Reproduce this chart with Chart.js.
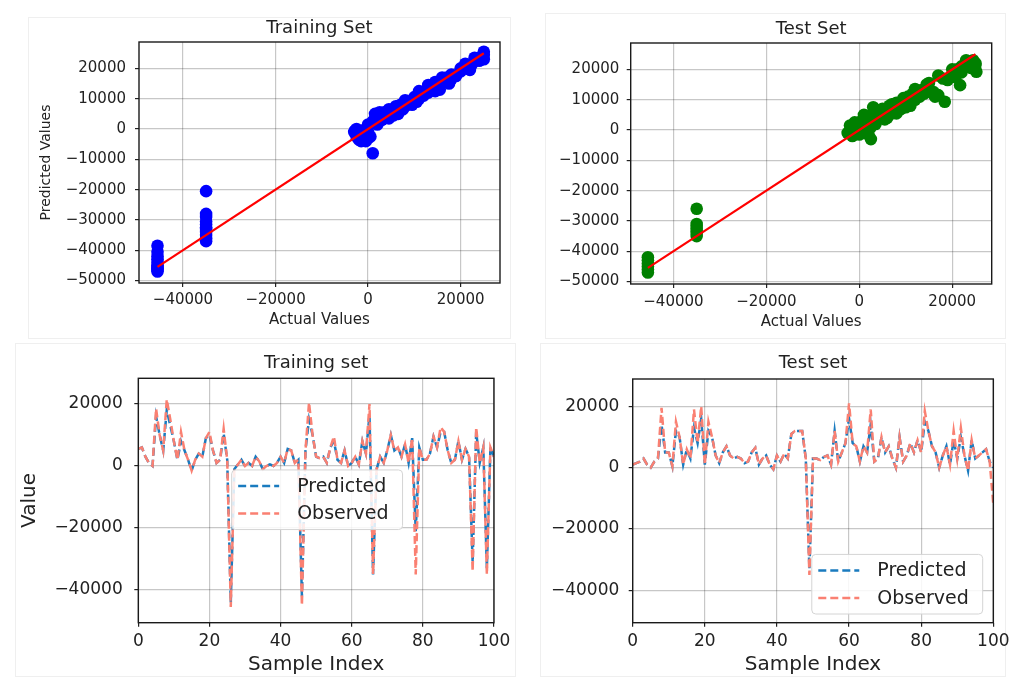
<!DOCTYPE html>
<html><head><meta charset="utf-8">
<script src="https://cdn.jsdelivr.net/npm/chart.js@4/dist/chart.umd.min.js"></script>
<style>
html,body{margin:0;padding:0;background:#fff;width:1019px;height:677px;overflow:hidden}
.card{position:absolute;border:1px solid #efefef;background:#fff;box-sizing:border-box}
canvas{position:absolute}
</style></head><body>
<div class="card" style="left:28px;top:17px;width:483px;height:322px"></div>
<div class="card" style="left:545px;top:13px;width:461px;height:326px"></div>
<div class="card" style="left:15px;top:343px;width:501px;height:334px"></div>
<div class="card" style="left:540px;top:343px;width:466px;height:334px"></div>
<canvas id="c1" width="515" height="340" style="left:0;top:0"></canvas>
<canvas id="c2" width="504" height="340" style="left:515px;top:0"></canvas>
<canvas id="c3" width="515" height="337" style="left:0;top:340px"></canvas>
<canvas id="c4" width="504" height="337" style="left:515px;top:340px"></canvas>
<script>
// ---------------- DATA ----------------
const trainActual = [-45500,-45500,-45500,-45500,-45500,-45500,-45500,-45500,-45500,-45500,
  -35000,-35000,-35000,-35000,-35000,-35000,-35000,-35000,-35000,-35000,-35000,
  -3000,-2800,-2500,-2000,-1500,-1000,-500,0,0,500,1000,1000,1500,2000,2000,2500,3000,3500,4000,4500,
  5000,5500,6000,6500,7000,7500,8000,8500,9000,9500,10000,10500,11000,11500,12000,12500,13000,13500,
  14000,14500,15000,15500,16000,17000,17500,18000,19000,20000,21000,22000,22500,23000,24000,24500,25000,25000,
  -2500,-2000,-1000,0,-500,1500,2500,3500,4500,6000,8000,11000,13000,14500,16000,18000,20000,21000,22000,23000,24000,25000];
const trainPredicted = [-38500,-40500,-42000,-43000,-44000,-45000,-45500,-46000,-46500,-47000,
  -20500,-28000,-29000,-30500,-31500,-32500,-33000,-34000,-35000,-36000,-37000,
  -1000,-500,-2500,-3500,-4000,-2000,0,-1000,1500,-2500,2500,-8000,3500,5000,1500,4500,3000,4000,5000,3500,
  5500,4500,6000,5000,8000,6500,7500,8500,9000,8000,10500,9000,10000,11500,11000,12500,12000,13500,
  14500,12500,14000,13000,15500,17000,15000,18000,17500,20000,20500,19500,21500,22500,23500,23000,24500,25500,
  0,-1500,-3500,-3000,-4000,5000,5500,5500,6500,7500,9500,12500,14500,15500,17000,16500,19000,21500,21000,23500,22500,23000];

const testActual = [-45500,-45500,-45500,-45500,-45500,-45500,
  -35000,-35000,-35000,-35000,-35000,-35000,
  -2500,-2000,-1500,-1000,-500,0,0,500,1000,1000,1500,2000,2500,2500,3000,3000,3500,4000,4500,5000,5500,
  6000,6500,7000,7500,8000,8500,9000,9500,10000,10500,11000,11500,12000,13000,14000,14500,15000,16000,16300,
  17000,18000,18400,19000,20000,21000,21700,22000,23000,24000,25000,25200,
  1000,2000,3500,4000,5000,6000,7000,8000,9000,10000,11000,12000,13000,14000,15000,15500,17000,
  20000,21000,22000,23500,24500,25000];
const testPredicted = [-42000,-43000,-44000,-45000,-46000,-47000,
  -26000,-31000,-32000,-33000,-34000,-35000,
  -1000,1500,-2000,2500,0,-1500,1000,3000,-1000,5000,2000,4500,-3000,1000,7500,3000,5500,6500,4000,7000,3500,
  6000,8000,5500,7000,9000,6500,8500,10500,7500,11000,9500,12000,10000,13000,12000,15000,13500,12500,11000,
  18000,17000,9300,16500,20000,18500,14800,21000,23000,20500,22000,19200,
  2500,-1500,2000,3500,4500,4000,8500,5500,7000,9500,8000,13500,11000,13500,15500,12500,11500,
  17500,20000,19000,21500,23000,21500];

const idealX = [-45500, 25000];
const idealY = [-45500, 25000];

const scatterXTicks = [-40000, -20000, 0, 20000];
const scatterYTicks = [-50000, -40000, -30000, -20000, -10000, 0, 10000, 20000];
const lineXTicks = [0, 20, 40, 60, 80, 100];
const lineYTicks = [-40000, -20000, 0, 20000];

const sampleIndex = Array.from({length:101},(_, i)=>i);

const trainSetObserved = [5500,6000,3000,1000,0,18500,10000,5000,21500,15000,
  8000,2000,11000,5000,2000,-1500,2000,4000,3000,9000,
  11000,5000,1000,2000,12000,2000,-45500,-1000,500,2000,
  0,1000,0,3000,1500,-1000,0,500,0,1000,
  3000,1000,5500,5000,1000,2000,-45000,5000,20500,10000,
  3000,2500,3000,1000,6000,9500,2000,1000,5000,0,
  1000,3000,500,8000,4000,20000,-35000,-1000,3000,1000,
  5000,10000,5000,6000,3000,7000,1000,9000,-35000,6000,
  2000,2000,4000,9500,6000,12500,11000,5000,1000,2000,
  8000,2000,5500,3000,-34000,12500,1000,6000,-35000,6000,
  3000];
const trainSetPredicted = [5500,6000,3000,1000,0,16000,10000,5000,18000,13000,
  8000,2000,8000,5000,2000,-1500,2000,4000,3000,9000,
  10000,5000,1000,2000,10500,2000,-44000,-1000,500,2000,
  0,1000,0,3000,1500,-1000,0,500,0,1000,
  3000,1000,5500,5000,1000,2000,-42000,5000,15000,10000,
  3000,2500,3000,1000,6000,8000,2000,1000,5000,0,
  1000,3000,500,8000,4000,16500,-35000,-1000,3000,1000,
  5000,10000,5000,6000,3000,7000,1000,9000,-21000,6000,
  2000,2000,4000,9500,6000,11000,11000,5000,1000,2000,
  8000,2000,5500,3000,-31000,11000,1000,6000,-33000,6000,
  3000];

const testSetObserved = [1000,1500,2000,3000,1000,0,2000,3000,19500,5000,
  5000,500,15000,10000,1000,6000,3000,19000,8000,20000,
  1000,15000,10000,4000,1500,5000,7000,4000,3000,3500,
  3000,1500,2000,5000,6500,1000,3000,4000,1000,-500,
  4000,2000,4500,3000,11000,12000,12000,12000,3000,-35000,
  3000,3000,2500,3500,4000,1000,12000,2000,5000,8000,
  21000,8000,7000,2000,7000,5000,19000,2000,3000,10000,
  5000,7000,3000,0,10000,2000,4000,8000,5000,9000,
  5000,18500,12000,7000,5000,0,4000,7000,1000,12000,
  3000,13000,4000,-1000,9000,3000,4000,5000,6000,2000,
  -12000];
const testSetPredicted = [1000,1500,2000,3000,1000,0,2000,3000,14000,5000,
  5000,500,12000,10000,1000,6000,3000,13000,8000,16000,
  1000,12000,10000,4000,1500,5000,7000,4000,3000,3500,
  3000,1500,2000,5000,6500,1000,3000,4000,1000,-500,
  4000,2000,4500,3000,11000,12000,12000,12000,3000,-33000,
  3000,3000,2500,3500,4000,1000,12000,2000,5000,8000,
  16000,8000,7000,2000,7000,5000,14000,2000,3000,10000,
  5000,7000,3000,0,10000,2000,4000,8000,5000,9000,
  5000,15000,12000,7000,5000,0,4000,7000,1000,9000,
  3000,10000,4000,-1000,9000,3000,4000,5000,6000,2000,
  0];

// ---------------- STYLE / HELPERS ----------------
const F = 'DejaVu Sans';
const TXT = '#222';
const fmt = v => v < 0 ? '\u2212' + Math.abs(v) : String(v);
const pts = (xs, ys) => xs.map((x, i) => ({x, y: ys[i]}));

const framePlugin = {
  id: 'frame',
  afterDatasetsDraw(chart) {
    const {ctx, chartArea: a} = chart;
    ctx.save();
    ctx.strokeStyle = '#1a1a1a';
    ctx.lineWidth = 1.4;
    ctx.strokeRect(a.left, a.top, a.right - a.left, a.bottom - a.top);
    ctx.restore();
  }
};

const legendPlugin = {
  id: 'mplLegend',
  afterDraw(chart, args, o) {
    if (!o || !o.show) return;
    const {ctx, chartArea: a} = chart;
    const items = chart.data.datasets.map(d => ({label: d.label, color: d.borderColor, dash: d.borderDash, width: d.borderWidth}));
    ctx.save();
    ctx.font = o.fontSize + 'px "' + F + '"';
    const tw = Math.max(...items.map(it => ctx.measureText(it.label).width));
    const w = o.padL + o.handle + o.gap + tw + o.padR;
    const h = o.padT * 2 + o.rowGap * (items.length - 1);
    let x, y;
    if (o.loc === 'lower right') { x = a.right - o.dx - w; y = a.bottom - o.dy - h; }
    else { x = a.left + o.fx * (a.right - a.left); y = a.top + o.fy * (a.bottom - a.top); }
    ctx.beginPath();
    ctx.roundRect(x, y, w, h, 4);
    ctx.fillStyle = 'rgba(255,255,255,0.85)';
    ctx.fill();
    ctx.strokeStyle = '#d4d4d4';
    ctx.lineWidth = 1;
    ctx.stroke();
    items.forEach((it, i) => {
      const cy = y + o.padT + i * o.rowGap;
      ctx.beginPath();
      ctx.setLineDash(it.dash || []);
      ctx.strokeStyle = it.color;
      ctx.lineWidth = it.width;
      ctx.moveTo(x + o.padL, cy);
      ctx.lineTo(x + o.padL + o.handle, cy);
      ctx.stroke();
      ctx.setLineDash([]);
      ctx.fillStyle = TXT;
      ctx.textBaseline = 'middle';
      ctx.textAlign = 'left';
      ctx.fillText(it.label, x + o.padL + o.handle + o.gap, cy + 1);
    });
    ctx.restore();
  }
};

function axis(o) {
  return {
    type: 'linear', min: o.min, max: o.max,
    afterBuildTicks: s => { s.ticks = o.ticks.map(v => ({value: v})); },
    afterFit: s => { if (s.isHorizontal()) s.height = o.size; else s.width = o.size; },
    ticks: {color: TXT, font: {family: F, size: o.tickSize},
            padding: o.tickPad, maxRotation: 0, autoSkip: false, callback: fmt},
    grid: {color: 'rgba(0,0,0,0.22)', lineWidth: 1.2, tickLength: 4, tickColor: '#222', tickWidth: 1.2},
    border: {display: false},
    title: o.title ? {display: true, text: o.title, color: TXT, font: {family: F, size: o.titleSize},
                      padding: o.titlePad} : {display: false}
  };
}

function titleCfg(text, pt, pb) {
  return {display: true, text, fullSize: false, color: TXT,
          font: {family: F, size: 18, weight: 'normal', lineHeight: 1.2}, padding: {top: pt, bottom: pb}};
}

function scatterChart(id, title, xs, ys, color, L) {
  new Chart(document.getElementById(id), {
    type: 'scatter',
    data: {datasets: [
      {type: 'line', data: pts(idealX, idealY), borderColor: '#ff0000', borderWidth: 2.2, pointRadius: 0, order: 0, fill: false},
      {data: pts(xs, ys), backgroundColor: color, borderColor: color, borderWidth: 0, pointRadius: 6.3, order: 1}
    ]},
    options: {
      responsive: false, animation: false,
      layout: {padding: {left: 0, right: L.padR, top: 0, bottom: 0}},
      plugins: {legend: {display: false}, tooltip: {enabled: false}, title: titleCfg(title, L.tpt, L.tpb)},
      scales: {
        x: axis({min: L.xmin, max: L.xmax, ticks: scatterXTicks, size: L.xh, tickSize: 15, tickPad: L.xtp,
                 title: 'Actual Values', titleSize: 15, titlePad: {top: 0, bottom: L.xttp}}),
        y: axis({min: -50800, max: 28700, ticks: scatterYTicks, size: L.yw, tickSize: 15, tickPad: L.ytp,
                 title: L.ytitle, titleSize: 14, titlePad: {top: L.yttp, bottom: 0}})
      }
    },
    plugins: [framePlugin]
  });
}

function lineChart(id, title, obs, pred, L) {
  new Chart(document.getElementById(id), {
    type: 'line',
    data: {datasets: [
      {label: 'Predicted', data: pts(sampleIndex, pred), borderColor: '#1a7bbf', borderWidth: 2.5,
       borderDash: [8, 4], pointRadius: 0, order: 2, fill: false, tension: 0},
      {label: 'Observed', data: pts(sampleIndex, obs), borderColor: '#fa8072', borderWidth: 2.5,
       borderDash: [8, 4], pointRadius: 0, order: 1, fill: false, tension: 0}
    ]},
    options: {
      responsive: false, animation: false,
      layout: {padding: {left: 0, right: L.padR, top: 0, bottom: 0}},
      plugins: {legend: {display: false}, tooltip: {enabled: false}, title: titleCfg(title, L.tpt, L.tpb),
                mplLegend: L.legend},
      scales: {
        x: axis({min: 0, max: 100, ticks: lineXTicks, size: 54.3, tickSize: 17, tickPad: 4.8,
                 title: 'Sample Index', titleSize: 20, titlePad: {top: 0, bottom: 0}}),
        y: axis({min: L.ymin, max: L.ymax, ticks: lineYTicks, size: L.yw, tickSize: 17, tickPad: L.ytp,
                 title: L.ytitle, titleSize: 20, titlePad: {top: 18, bottom: 0}})
      }
    },
    plugins: [framePlugin, legendPlugin]
  });
}

scatterChart('c1', 'Training Set', trainActual, trainPredicted, '#0000ff',
  {padR: 15, tpt: 17.4, tpb: 3.0, xmin: -49500, xmax: 28500, xh: 57, xtp: 4, xttp: 11,
   yw: 139, ytp: 9, ytitle: 'Predicted Values', yttp: 37.6});
scatterChart('c2', 'Test Set', testActual, testPredicted, '#008000',
  {padR: 27.3, tpt: 18.5, tpb: 2.9, xmin: -49200, xmax: 28500, xh: 56, xtp: 5.3, xttp: 9.3,
   yw: 115.7, ytp: 7.4, ytitle: null, yttp: 0});

const legendBase = {show: true, fontSize: 19, padL: 6.5, handle: 41, gap: 18, padR: 14, padT: 16, rowGap: 27.6};
lineChart('c3', 'Training set', trainSetObserved, trainSetPredicted,
  {padR: 16, tpt: 12.5, tpb: 4.2, ymin: -50550, ymax: 28290, yw: 138.3, ytp: 11.6, ytitle: 'Value',
   legend: Object.assign({}, legendBase, {loc: 'free', fx: 0.2625, fy: 0.375})});
lineChart('c4', 'Test set', testSetObserved, testSetPredicted,
  {padR: 25.7, tpt: 12.5, tpb: 4.9, ymin: -50570, ymax: 28940, yw: 117.7, ytp: 9.4, ytitle: null,
   legend: Object.assign({}, legendBase, {loc: 'lower right', dx: 10.6, dy: 8.7})});
</script>
</body></html>
